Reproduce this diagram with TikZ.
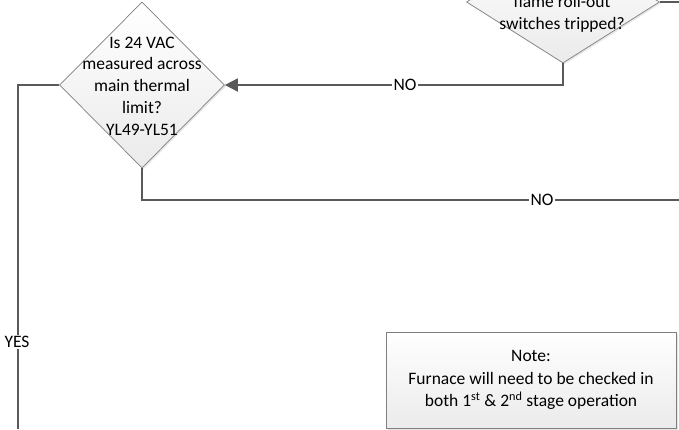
\documentclass[tikz,border=0pt]{standalone}
\usepackage{fontspec}
\setmainfont{Carlito}
\usetikzlibrary{shapes.geometric,arrows.meta,shadows}
\definecolor{linec}{HTML}{595959}
\definecolor{edgec}{HTML}{7F7F7F}
\begin{document}
\begin{tikzpicture}[x=1pt,y=-1pt,
  decision/.style={diamond,draw=edgec,line width=0.7pt,top color=white,bottom color=black!8,
    inner sep=0pt,drop shadow={opacity=0.18,shadow xshift=1.5pt,shadow yshift=-1.5pt}},
  txt/.style={align=center,font=\fontsize{17.5}{21.7}\selectfont,inner sep=0pt},
  conn/.style={draw=linec,line width=1.8pt},
  lab/.style={fill=white,inner sep=1.5pt,font=\fontsize{17.5}{21}\selectfont},
  notebox/.style={rectangle,draw=edgec,line width=0.7pt,top color=white,bottom color=black!8,
    drop shadow={opacity=0.2,shadow xshift=1.5pt,shadow yshift=-1.5pt},
    minimum width=290pt,minimum height=96pt,align=center,
    font=\fontsize{17.5}{22.5}\selectfont}]
\useasboundingbox (0,0) rectangle (679,429);
\clip (0,0) rectangle (679,429);
% decisions
\node[decision,minimum width=165pt,minimum height=166pt] (d1) at (142,85) {};
\node[txt] (d1t) at (142,86) {Is 24 VAC\\measured across\\main thermal\\limit?\\YL49-YL51};
\node[decision,minimum width=193pt,minimum height=122pt] (d2) at (563,2) {};
\node[txt] (d2t) at (562,14) {flame roll-out\\switches tripped?};
% note
\node[notebox] (note) at (531,380) {Note:\\Furnace will need to be checked in\\both 1\textsuperscript{st} \& 2\textsuperscript{nd} stage operation};
% free ends
\coordinate (e1) at (679,200);
\coordinate (e2) at (679,2);
\coordinate (e3) at (18,429);
% connectors
\draw[conn,-{Triangle[length=13pt,width=13pt]}] (d2.south) |- (d1.east);
\draw[conn] (d1.south) |- (e1);
\draw[conn] (d1.west) -| (e3);
\draw[conn] (d2.east) -- (e2);
% labels
\node[lab] (no1) at (405,85) {NO};
\node[lab] (no2) at (542,200) {NO};
\node[lab] (yes) at (17,342) {YES};
\end{tikzpicture}
\end{document}
